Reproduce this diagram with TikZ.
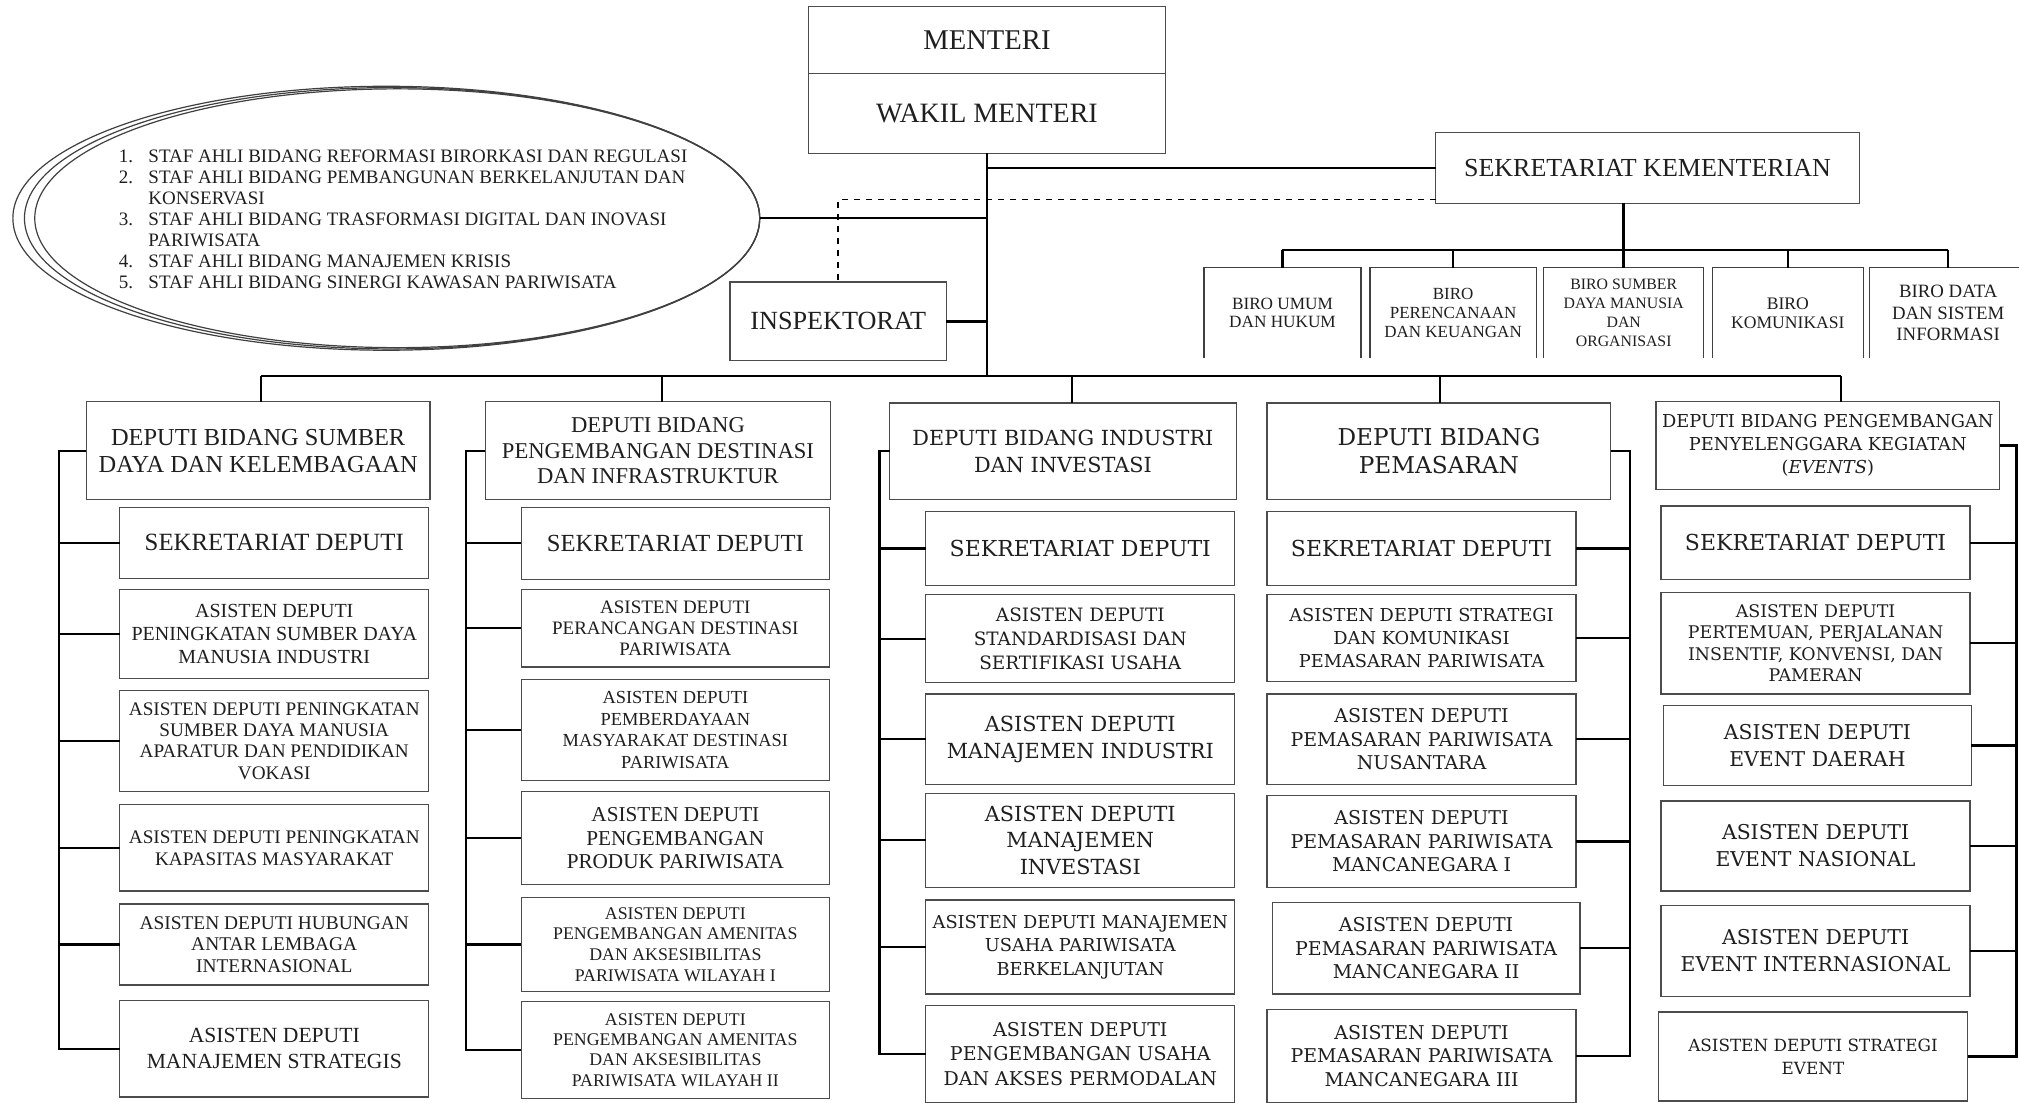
\documentclass[tikz,border=0pt]{standalone}
\usepackage{fontspec}
\setmainfont{Liberation Serif}
\newfontfamily\widefont{DejaVu Serif}
\usetikzlibrary{shapes.geometric}
\newcommand\fz[2]{\fontsize{#1}{#2}\selectfont}
\newcommand\nm[1]{\makebox[14.8pt][l]{#1}}
\newcommand\rb[7]{\node[bx,#6,minimum width={(#4-#2)*0.6438pt},minimum height={(#5-#3)*0.6438pt}] (#1) at ({(#2+#4)/2},{(#3+#5)/2}) {#7};}
\begin{document}
\begin{tikzpicture}[x=0.6438pt,y=-0.6438pt,
  bx/.style={draw=black!70,line width=0.6pt,inner sep=0pt,outer sep=0pt,align=center,text=black!88},
  open/.style={draw=none},
  fs/.style 2 args={font=\fz{#1}{#2}},
  wfs/.style 2 args={font=\widefont\fz{#1}{#2}},
  conn/.style={line width=1.25pt,black},
  brk/.style={line width=1.1pt,black},
  bord/.style={draw=black!75,line width=0.6pt}]
\fill[white] (0,0) rectangle (1568,856);
\useasboundingbox (0,0) rectangle (1568,856);

% ---------- top ----------
\rb{menteri}{628}{5}{905}{57}{fs={14.3}{16}}{MENTERI}
\rb{wakil}{628}{57}{905}{119}{fs={14}{16}}{WAKIL MENTERI}
\rb{sek}{1115}{103}{1444}{158}{fs={13}{15}}{SEKRETARIAT KEMENTERIAN}
\rb{insp}{567}{219}{735}{280}{fs={13.1}{15}}{INSPEKTORAT}

% staf ahli ellipse
\draw[bord] (300,169.5) ellipse [x radius=290*0.6438pt, y radius=102.5*0.6438pt];
\draw[bord] (304.5,169.5) ellipse [x radius=285.5*0.6438pt, y radius=101.5*0.6438pt];
\node[ellipse,bord,inner sep=0pt,outer sep=0pt,minimum width=563*0.6438pt,minimum height=201*0.6438pt] (staf) at (308.5,169.5) {};
\node[font=\fz{9.5}{10.5},align=left,anchor=west,inner sep=0pt,text=black!88] (stafT) at (92,170)
{\nm{1.}STAF AHLI BIDANG REFORMASI BIRORKASI DAN REGULASI\\
 \nm{2.}STAF AHLI BIDANG PEMBANGUNAN BERKELANJUTAN DAN\\
 \nm{}KONSERVASI\\
 \nm{3.}STAF AHLI BIDANG TRASFORMASI DIGITAL DAN INOVASI\\
 \nm{}PARIWISATA\\
 \nm{4.}STAF AHLI BIDANG MANAJEMEN KRISIS\\
 \nm{5.}STAF AHLI BIDANG SINERGI KAWASAN PARIWISATA};

% biro
\rb{b1}{935}{208}{1057}{278}{open,fs={8.6}{9.4}}{BIRO UMUM\\DAN HUKUM}
\rb{b2}{1064}{208}{1193}{278}{open,fs={8.5}{9.4}}{BIRO\\PERENCANAAN\\DAN KEUANGAN}
\rb{b3}{1199}{208}{1323}{278}{open,fs={7.9}{9.5}}{BIRO SUMBER\\DAYA MANUSIA\\DAN\\ORGANISASI}
\rb{b4}{1330}{208}{1447}{278}{open,fs={8.8}{9.6}}{BIRO\\KOMUNIKASI}
\rb{b5}{1452}{208}{1574}{278}{open,fs={9.4}{10.6}}{BIRO DATA\\DAN SISTEM\\INFORMASI}
\foreach \b in {b1,b2,b3,b4,b5}{
  \draw[bord] (\b.south west) -- (\b.north west) -- (\b.north east) -- (\b.south east);
}

% ---------- column 1 ----------
\rb{d1}{67}{312}{334}{388}{fs={12.2}{13.5}}{DEPUTI BIDANG SUMBER\\DAYA DAN KELEMBAGAAN}
\rb{s1}{93}{394}{333}{449}{fs={12.4}{14}}{SEKRETARIAT DEPUTI}
\rb{a11}{93}{458}{333}{527}{fs={10}{11.6}}{ASISTEN DEPUTI\\PENINGKATAN SUMBER DAYA\\MANUSIA INDUSTRI}
\rb{a12}{93}{536}{333}{615}{fs={9.6}{10.7}}{ASISTEN DEPUTI PENINGKATAN\\SUMBER DAYA MANUSIA\\APARATUR DAN PENDIDIKAN\\VOKASI}
\rb{a13}{93}{625}{333}{692}{fs={9.6}{11}}{ASISTEN DEPUTI PENINGKATAN\\KAPASITAS MASYARAKAT}
\rb{a14}{93}{702}{333}{765}{fs={9.7}{10.6}}{ASISTEN DEPUTI HUBUNGAN\\ANTAR LEMBAGA\\INTERNASIONAL}
\rb{a15}{93}{777}{333}{852}{fs={10.8}{12.9}}{ASISTEN DEPUTI\\MANAJEMEN STRATEGIS}

% ---------- column 2 ----------
\rb{d2}{377}{312}{645}{388}{fs={11.3}{12.9}}{DEPUTI BIDANG\\PENGEMBANGAN DESTINASI\\DAN INFRASTRUKTUR}
\rb{s2}{405}{394}{644}{450}{fs={12.3}{14}}{SEKRETARIAT DEPUTI}
\rb{a21}{405}{458}{644}{518}{fs={9.5}{10.6}}{ASISTEN DEPUTI\\PERANCANGAN DESTINASI\\PARIWISATA}
\rb{a22}{405}{528}{644}{606}{fs={9.2}{10.7}}{ASISTEN DEPUTI\\PEMBERDAYAAN\\MASYARAKAT DESTINASI\\PARIWISATA}
\rb{a23}{405}{615}{644}{687}{fs={10.6}{11.9}}{ASISTEN DEPUTI\\PENGEMBANGAN\\PRODUK PARIWISATA}
\rb{a24}{405}{697}{644}{770}{fs={8.9}{10.3}}{ASISTEN DEPUTI\\PENGEMBANGAN AMENITAS\\DAN AKSESIBILITAS\\PARIWISATA WILAYAH I}
\rb{a25}{405}{778}{644}{853}{fs={8.9}{10.1}}{ASISTEN DEPUTI\\PENGEMBANGAN AMENITAS\\DAN AKSESIBILITAS\\PARIWISATA WILAYAH II}

% ---------- column 3 ----------
\rb{d3}{691}{313}{960}{388}{wfs={10.4}{13.5}}{DEPUTI BIDANG INDUSTRI\\DAN INVESTASI}
\rb{s3}{719}{397}{959}{455}{wfs={11}{13}}{SEKRETARIAT DEPUTI}
\rb{a31}{719}{462}{959}{530}{wfs={9.2}{11.9}}{ASISTEN DEPUTI\\STANDARDISASI DAN\\SERTIFIKASI USAHA}
\rb{a32}{719}{539}{959}{609}{wfs={10.4}{13.5}}{ASISTEN DEPUTI\\MANAJEMEN INDUSTRI}
\rb{a33}{719}{616}{959}{689}{wfs={10.4}{13.2}}{ASISTEN DEPUTI\\MANAJEMEN\\INVESTASI}
\rb{a34}{719}{699}{959}{772}{wfs={8.9}{11.9}}{ASISTEN DEPUTI MANAJEMEN\\USAHA PARIWISATA\\BERKELANJUTAN}
\rb{a35}{719}{781}{959}{856}{wfs={9.5}{12.2}}{ASISTEN DEPUTI\\PENGEMBANGAN USAHA\\DAN AKSES PERMODALAN}

% ---------- column 4 ----------
\rb{d4}{984}{313}{1251}{388}{wfs={11.6}{14.2}}{DEPUTI BIDANG\\PEMASARAN}
\rb{s4}{984}{397}{1224}{455}{wfs={11}{13}}{SEKRETARIAT DEPUTI}
\rb{a41}{984}{462}{1224}{529}{wfs={8.9}{11.3}}{ASISTEN DEPUTI STRATEGI\\DAN KOMUNIKASI\\PEMASARAN PARIWISATA}
\rb{a42}{984}{539}{1224}{609}{wfs={9.5}{11.6}}{ASISTEN DEPUTI\\PEMASARAN PARIWISATA\\NUSANTARA}
\rb{a43}{984}{618}{1224}{689}{wfs={9.5}{11.8}}{ASISTEN DEPUTI\\PEMASARAN PARIWISATA\\MANCANEGARA I}
\rb{a44}{988}{701}{1227}{772}{wfs={9.5}{11.8}}{ASISTEN DEPUTI\\PEMASARAN PARIWISATA\\MANCANEGARA II}
\rb{a45}{984}{784}{1224}{856}{wfs={9.5}{11.8}}{ASISTEN DEPUTI\\PEMASARAN PARIWISATA\\MANCANEGARA III}

% ---------- column 5 ----------
\rb{d5}{1286}{312}{1553}{380}{wfs={8.9}{11.6}}{DEPUTI BIDANG PENGEMBANGAN\\PENYELENGGARA KEGIATAN\\(\textit{EVENTS})}
\rb{s5}{1290}{393}{1530}{450}{wfs={11}{13}}{SEKRETARIAT DEPUTI}
\rb{a51}{1290}{460}{1530}{539}{wfs={8.7}{10.7}}{ASISTEN DEPUTI\\PERTEMUAN, PERJALANAN\\INSENTIF, KONVENSI, DAN\\PAMERAN}
\rb{a52}{1292}{548}{1531}{610}{wfs={10.2}{13.5}}{ASISTEN DEPUTI\\EVENT DAERAH}
\rb{a53}{1290}{622}{1530}{692}{wfs={10.2}{13.5}}{ASISTEN DEPUTI\\EVENT NASIONAL}
\rb{a54}{1290}{703}{1530}{774}{wfs={10.2}{13.5}}{ASISTEN DEPUTI\\EVENT INTERNASIONAL}
\rb{a55}{1288}{786}{1528}{855}{wfs={8.4}{11.6}}{ASISTEN DEPUTI STRATEGI\\EVENT}

% ---------- connectors ----------
\coordinate (bus) at (766,292);
\coordinate (bb) at (0,194);
\coordinate (dsh) at (1115,155);
\draw[conn] (wakil.south) -- (wakil.south |- bus);
\draw[conn] (sek.west) -- (sek.west -| wakil.south);
\draw[conn] (staf.east) -- (staf.east -| wakil.south);
\draw[conn] (insp.east) -- (insp.east -| wakil.south);
\draw[dashed,line width=0.8pt] (dsh) -| (insp.north);
\draw[conn] ([xshift=1.5]d1.north |- bus) -- ([xshift=6.5]d5.north |- bus);
\foreach \d/\s in {d1/1.5,d2/2,d3/4.5,d4/0.5,d5/6.5}{
  \draw[conn] ([xshift=\s]\d.north) -- ([xshift=\s]\d.north |- bus);
}
\draw[conn] (sek.south -| b3.north) -- (b3.north);
\draw[conn] (b1.north |- bb) -- (b5.north |- bb);
\foreach \b in {b1,b2,b4,b5}{
  \draw[conn] (\b.north) -- (\b.north |- bb);
}

% brackets left side
\coordinate (k1) at (46,0);
\coordinate (k2) at (362,0);
\coordinate (k3) at (683,0);
\coordinate (k4) at (1266,0);
\coordinate (k5) at (1566,0);
\draw[brk] (d1.west) -| (k1 |- a15.west) -- (a15.west);
\foreach \c in {s1,a11,a12,a13,a14}{\draw[brk] (\c.west) -- (\c.west -| k1);}
\draw[brk] (d2.west) -| (k2 |- a25.west) -- (a25.west);
\foreach \c in {s2,a21,a22,a23,a24}{\draw[brk] (\c.west) -- (\c.west -| k2);}
\draw[brk] (d3.west) -| (k3 |- a35.west) -- (a35.west);
\foreach \c in {s3,a31,a32,a33,a34}{\draw[brk] (\c.west) -- (\c.west -| k3);}
% brackets right side
\draw[brk] (d4.east) -| (k4 |- a45.east) -- (a45.east);
\foreach \c in {s4,a41,a42,a43,a44}{\draw[brk] (\c.east) -- (\c.east -| k4);}
\draw[brk] (d5.east) -| (k5 |- a55.east) -- (a55.east);
\foreach \c in {s5,a51,a52,a53,a54}{\draw[brk] (\c.east) -- (\c.east -| k5);}
\end{tikzpicture}
\end{document}
